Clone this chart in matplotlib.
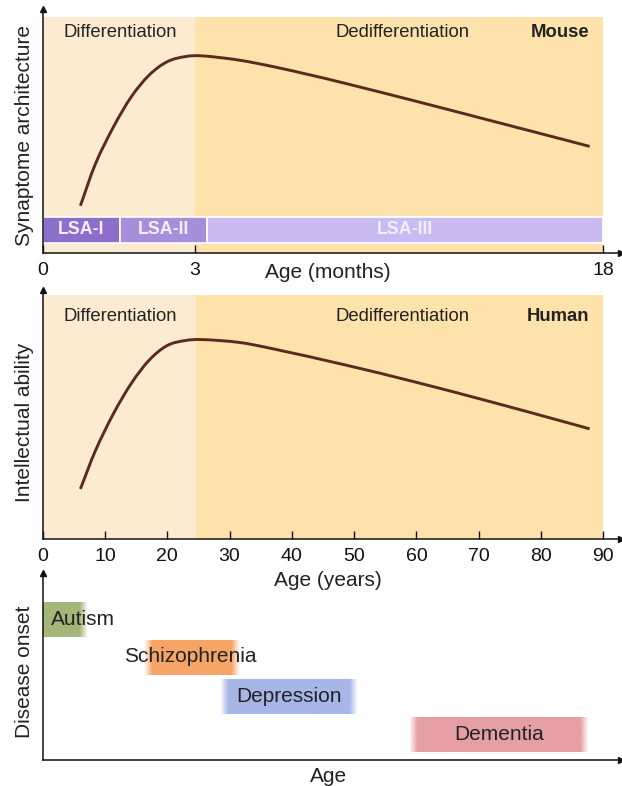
import numpy as np
import matplotlib
matplotlib.use("Agg")
import matplotlib.pyplot as plt
from matplotlib.path import Path
from matplotlib.patches import PathPatch
from matplotlib.colors import to_rgb

plt.rcParams['font.family'] = ['Liberation Sans', 'DejaVu Sans']

# ---------------- data ----------------
# Mouse panel (age in months, synaptome architecture 0-100)
mouse_age = [0.745, 1.047, 1.401, 1.753, 2.107, 2.459, 2.812, 3.308, 4.618, 5.928,
             7.24, 8.548, 11.17, 13.79, 16.41, 17.5]
mouse_val = [19.5, 36.9, 51.9, 64.2, 73.1, 78.5, 80.6, 80.9, 79.2, 76.4,
             73.1, 69.6, 62.2, 54.6, 47.0, 43.8]
mouse_ticks = [0, 3, 18]
mouse_phase_split = 3
mouse_end = 18
lsa_names = ["LSA-I", "LSA-II", "LSA-III"]
lsa_start = [0, 1.53, 3.45]
lsa_end = [1.53, 3.45, 18]
lsa_colors = ["#8b6fca", "#a68edb", "#c9bbf1"]

# Human panel (age in years, intellectual ability 0-100)
human_age = [6.05, 8.51, 11.38, 14.24, 17.11, 19.97, 22.84, 25.72, 31.45, 37.18,
             48.64, 60.1, 71.58, 83.05, 87.8]
human_val = [20.2, 35.8, 50.5, 62.6, 71.9, 77.7, 79.7, 80.1, 79.0, 76.3,
             69.9, 62.9, 55.4, 47.6, 44.3]
human_ticks = [0, 10, 20, 30, 40, 50, 60, 70, 80, 90]
human_phase_split = 24.6
human_end = 90

# Disease onset panel (age in years, ranking level)
diseases = ["Autism", "Schizophrenia", "Depression", "Dementia"]
onset_start = [0, 16.9, 29.1, 59.4]
onset_end = [6.5, 30.9, 49.8, 86.9]
onset_low = [65.9, 45.5, 24.6, 4.3]
onset_high = [84.1, 64.2, 43.3, 23.0]
disease_colors = ["#a5b67a", "#f7a567", "#a6b6e6", "#e59fa3"]

# ---------------- style ----------------
LIGHT = "#fdebd1"
DARK = "#fee2ab"
CURVE = "#5a2a1c"
TXT = "#222222"

fig = plt.figure(figsize=(6.22, 7.86), dpi=100)

L = 42.7 / 622
W = (621 - 42.7) / 622
ax1 = fig.add_axes([L, (786 - 253.3) / 786, W, 244 / 786])
ax2 = fig.add_axes([L, (786 - 539.3) / 786, W, 249.3 / 786])
ax3 = fig.add_axes([L, (786 - 760) / 786, W, 187 / 786])


def style_axes(ax):
    ax.set_facecolor("none")
    for s in ("top", "right"):
        ax.spines[s].set_visible(False)
    for s in ("left", "bottom"):
        ax.spines[s].set_linewidth(1.1)
        ax.spines[s].set_color("#111111")
    ax.plot(1, 0, marker=">", ms=4.5, color="#111111", transform=ax.transAxes, clip_on=False)
    ax.plot(0, 1, marker="^", ms=4.5, color="#111111", transform=ax.transAxes, clip_on=False)
    ax.set_yticks([])
    ax.set_ylim(0, 100)
    ax.tick_params(axis="x", direction="in", length=5.5, width=1.0, pad=6,
                   labelsize=14, colors="#111111")


def smooth_curve(ax, xs, ys, fwd=None, inv=None):
    """Draw a smooth Bezier path through the data points (Catmull-Rom)."""
    xs = np.asarray(xs, float)
    ys = np.asarray(ys, float)
    tx = fwd(xs) if fwd else xs
    P = np.column_stack([tx, ys])
    n = len(P)
    verts = [P[0]]
    codes = [Path.MOVETO]
    for i in range(n - 1):
        p0 = P[i - 1] if i > 0 else 2 * P[i] - P[i + 1]
        p1 = P[i]
        p2 = P[i + 1]
        p3 = P[i + 2] if i + 2 < n else 2 * P[i + 1] - P[i]
        c1 = p1 + (p2 - p0) / 6
        c2 = p2 - (p3 - p1) / 6
        verts += [c1, c2, p2]
        codes += [Path.CURVE4] * 3
    V = np.array(verts)
    if inv:
        V[:, 0] = inv(V[:, 0])
    ax.add_patch(PathPatch(Path(V, codes), fill=False, edgecolor=CURVE, lw=2.1,
                           capstyle="butt", zorder=3))


# piecewise age scale for mouse (0-3 months expanded)
S1 = 151.8 / 3
S2 = 408.8 / 15


def fwd(x):
    x = np.asarray(x, dtype=float)
    return np.where(x <= 3, x * S1, 3 * S1 + (x - 3) * S2)


def inv(p):
    p = np.asarray(p, dtype=float)
    return np.where(p <= 3 * S1, p / S1, 3 + (p - 3 * S1) / S2)


# ---------------- Mouse ----------------
ax1.set_xscale("function", functions=(fwd, inv))
style_axes(ax1)
ax1.fill_between([0, mouse_phase_split], 0, 96.8, color=LIGHT, lw=0, zorder=0)
ax1.fill_between([mouse_phase_split, mouse_end], 0, 96.8, color=DARK, lw=0, zorder=0)
for name, s, e, c in zip(lsa_names, lsa_start, lsa_end, lsa_colors):
    ax1.barh(9.55, e - s, left=s, height=10.9, color=c, edgecolor="white", lw=1.2, zorder=1)
    ax1.text(inv((fwd(s) + fwd(e)) / 2), 9.55, name, color="#f3eeff", fontsize=12.8,
             fontweight="bold", ha="center", va="center", zorder=2)
smooth_curve(ax1, mouse_age, mouse_val, fwd, inv)
ax1.set_xlim(0, 18 + 17.7 / S2)
ax1.set_ylim(0, 100)
ax1.set_xticks(mouse_ticks)
ax1.set_xticklabels([str(t) for t in mouse_ticks])
ax1.text(0.0355, 90.3, "Differentiation", fontsize=13.3, color=TXT, ha="left", va="center",
         transform=ax1.get_yaxis_transform())
ax1.text((403 - 42.7) / 578.3, 90.3, "Dedifferentiation", fontsize=13.3, color=TXT,
         ha="center", va="center", transform=ax1.get_yaxis_transform())
ax1.text((589 - 42.7) / 578.3, 90.3, "Mouse", fontsize=13.3, fontweight="bold", color=TXT,
         ha="right", va="center", transform=ax1.get_yaxis_transform())
ax1.text((328 - 42.7) / 578.3, (253.3 - 273) / 244, "Age (months)", fontsize=15, color=TXT,
         ha="center", va="center", transform=ax1.transAxes)
fig.text(24 / 622, 1 - 135 / 786, "Synaptome architecture", rotation=90, fontsize=15,
         color=TXT, ha="center", va="center")

# ---------------- Human ----------------
style_axes(ax2)
ax2.fill_between([0, human_phase_split], 0, 98.0, color=LIGHT, lw=0, zorder=0)
ax2.fill_between([human_phase_split, human_end], 0, 98.0, color=DARK, lw=0, zorder=0)
smooth_curve(ax2, human_age, human_val)
ax2.set_xlim(0, 90 + 17.7 / 6.229)
ax2.set_ylim(0, 100)
ax2.set_xticks(human_ticks)
ax2.set_xticklabels([str(t) for t in human_ticks])
ax2.text(0.0355, 89.5, "Differentiation", fontsize=13.3, color=TXT, ha="left", va="center",
         transform=ax2.get_yaxis_transform())
ax2.text((403 - 42.7) / 578.3, 89.5, "Dedifferentiation", fontsize=13.3, color=TXT,
         ha="center", va="center", transform=ax2.get_yaxis_transform())
ax2.text((589 - 42.7) / 578.3, 89.5, "Human", fontsize=13.3, fontweight="bold", color=TXT,
         ha="right", va="center", transform=ax2.get_yaxis_transform())
ax2.text((328 - 42.7) / 578.3, (539.3 - 580) / 249.3, "Age (years)", fontsize=15, color=TXT,
         ha="center", va="center", transform=ax2.transAxes)
fig.text(24 / 622, 1 - 422 / 786, "Intellectual ability", rotation=90, fontsize=15,
         color=TXT, ha="center", va="center")

# ---------------- Disease onset ----------------
style_axes(ax3)
ax3.set_xticks([])
FADE = 1.3  # years of soft edge
for i, (name, s, e, lo, hi, c) in enumerate(zip(diseases, onset_start, onset_end,
                                                 onset_low, onset_high, disease_colors)):
    left = s if s <= 0 else s - FADE / 2
    right = e + FADE / 2
    xx = np.linspace(left, right, 200)
    a = np.clip((right - xx) / FADE, 0, 1)
    if s > 0:
        a = np.minimum(a, np.clip((xx - left) / FADE, 0, 1))
    img = np.zeros((1, len(xx), 4))
    img[..., :3] = to_rgb(c)
    img[0, :, 3] = a
    ax3.imshow(img, extent=[left, right, lo, hi], aspect="auto", interpolation="bilinear",
               zorder=1)

ax3.text(1.3, (onset_low[0] + onset_high[0]) / 2 + 0.3, diseases[0], fontsize=15, color=TXT,
         ha="left", va="center", zorder=3)
ax3.text((190.5 - 42.7) / 6.229, (760 - 657) / 1.87, diseases[1], fontsize=15, color=TXT,
         ha="center", va="center", zorder=3)
ax3.text((289 - 42.7) / 6.229, (760 - 697) / 1.87, diseases[2], fontsize=15, color=TXT,
         ha="center", va="center", zorder=3)
ax3.text((498.7 - 42.7) / 6.229, (760 - 734) / 1.87, diseases[3], fontsize=15, color=TXT,
         ha="center", va="center", zorder=3)
ax3.set_xlim(0, 90 + 17.7 / 6.229)
ax3.set_ylim(0, 100)
ax3.text((329 - 42.7) / 578.3, (760 - 777) / 187, "Age", fontsize=15, color=TXT,
         ha="center", va="center", transform=ax3.transAxes)
fig.text(24 / 622, 1 - 672 / 786, "Disease onset", rotation=90, fontsize=15,
         color=TXT, ha="center", va="center")

fig.savefig("out.png", dpi=100)
